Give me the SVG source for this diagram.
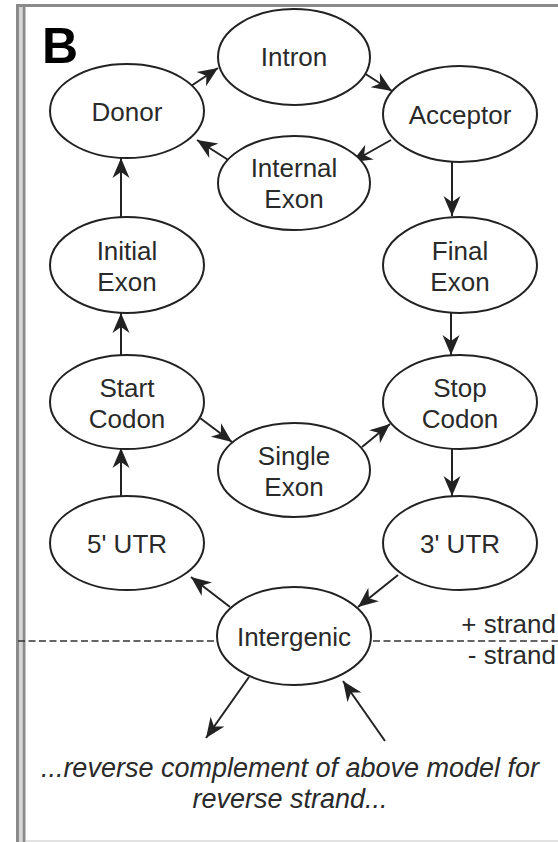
<svg xmlns="http://www.w3.org/2000/svg" width="558" height="842" viewBox="0 0 558 842">
  <style>
    .node ellipse { fill: #ffffff; stroke: #222222; stroke-width: 2; }
    .node text, .label { font-family: "Liberation Sans", Arial, Helvetica, sans-serif; font-size: 26px; fill: #2a2a2a; text-anchor: middle; }
    .edge { stroke: #222222; stroke-width: 2; fill: none; marker-end: url(#arrow); }
    .frame { stroke: #8a8a8a; stroke-width: 3; fill: none; }
    .note { font-family: "Liberation Sans", Arial, Helvetica, sans-serif; font-size: 27px; font-style: italic; fill: #2a2a2a; text-anchor: middle; }
  </style>
  <defs>
    <marker id="arrow" markerUnits="userSpaceOnUse" markerWidth="22" markerHeight="20" refX="20" refY="10" orient="auto">
      <path d="M0,1.5 L20,10 L0,18.5 L6,10 Z" fill="#222222"/>
    </marker>
  </defs>

  <rect width="558" height="842" fill="#ffffff"/>

  <!-- panel frame -->
  <g id="frame">
    <rect x="19" y="4" width="3" height="838" fill="#d6d6d6"/>
    <line class="frame" x1="17.5" y1="4" x2="17.5" y2="842"/>
    <line class="frame" x1="24" y1="7" x2="24" y2="842"/>
    <line class="frame" x1="16" y1="5.5" x2="558" y2="5.5"/>
    <line x1="26" y1="841" x2="558" y2="841" stroke="#e2e2e2" stroke-width="2"/>
  </g>

  <text x="42" y="63" font-family="Liberation Sans, Arial, sans-serif" font-weight="bold" font-size="50" fill="#000000">B</text>

  <!-- strand divider -->
  <g id="divider" stroke="#333333" stroke-width="1.6" stroke-dasharray="7 3.5">
    <line x1="18" y1="641" x2="216" y2="641"/>
    <line x1="373" y1="641" x2="558" y2="641"/>
  </g>
  <text class="label" x="556" y="633" style="text-anchor:end">+ strand</text>
  <text class="label" x="556" y="664" style="text-anchor:end">- strand</text>

  <!-- connectors -->
  <g id="connectors">
    <line class="edge" x1="191" y1="86" x2="218" y2="68"/>
    <line class="edge" x1="364" y1="73" x2="392" y2="91"/>
    <line class="edge" x1="391" y1="140" x2="352" y2="162"/>
    <line class="edge" x1="233" y1="163" x2="197" y2="140"/>
    <line class="edge" x1="121" y1="217" x2="121" y2="158"/>
    <line class="edge" x1="452" y1="162" x2="452" y2="216"/>
    <line class="edge" x1="451" y1="313" x2="451" y2="355"/>
    <line class="edge" x1="121" y1="355" x2="121" y2="313"/>
    <line class="edge" x1="200" y1="418" x2="232" y2="442"/>
    <line class="edge" x1="362" y1="447" x2="390" y2="424"/>
    <line class="edge" x1="121" y1="496" x2="121" y2="448"/>
    <line class="edge" x1="452" y1="448" x2="452" y2="496"/>
    <line class="edge" x1="230" y1="607" x2="191" y2="577"/>
    <line class="edge" x1="398" y1="575" x2="358" y2="607"/>
    <line class="edge" x1="249" y1="677" x2="206" y2="738"/>
    <line class="edge" x1="385" y1="741" x2="343" y2="681"/>
  </g>

  <!-- states -->
  <g id="intron" class="node"><ellipse cx="294" cy="57" rx="76" ry="48"/><text x="294" y="66">Intron</text></g>
  <g id="donor" class="node"><ellipse cx="127" cy="111" rx="77" ry="47"/><text x="127" y="121">Donor</text></g>
  <g id="acceptor" class="node"><ellipse cx="460" cy="114" rx="77" ry="48"/><text x="460" y="124">Acceptor</text></g>
  <g id="internal-exon" class="node"><ellipse cx="294" cy="183" rx="76" ry="47"/><text x="294" y="177">Internal</text><text x="294" y="208">Exon</text></g>
  <g id="initial-exon" class="node"><ellipse cx="127" cy="265" rx="77" ry="48"/><text x="127" y="260">Initial</text><text x="127" y="291">Exon</text></g>
  <g id="final-exon" class="node"><ellipse cx="460" cy="265" rx="77" ry="48"/><text x="460" y="260">Final</text><text x="460" y="291">Exon</text></g>
  <g id="start-codon" class="node"><ellipse cx="127" cy="402" rx="77" ry="47"/><text x="127" y="397">Start</text><text x="127" y="428">Codon</text></g>
  <g id="stop-codon" class="node"><ellipse cx="460" cy="402" rx="77" ry="47"/><text x="460" y="397">Stop</text><text x="460" y="428">Codon</text></g>
  <g id="single-exon" class="node"><ellipse cx="294" cy="470" rx="76" ry="47"/><text x="294" y="465">Single</text><text x="294" y="496">Exon</text></g>
  <g id="utr5" class="node"><ellipse cx="127" cy="543" rx="77" ry="47"/><text x="127" y="553">5' UTR</text></g>
  <g id="utr3" class="node"><ellipse cx="460" cy="543" rx="77" ry="47"/><text x="460" y="553">3' UTR</text></g>
  <g id="intergenic" class="node"><ellipse cx="294" cy="636" rx="77" ry="49"/><text x="294" y="646">Intergenic</text></g>

  <text class="note" x="290" y="777">...reverse complement of above model for</text>
  <text class="note" x="290" y="808">reverse strand...</text>
</svg>
